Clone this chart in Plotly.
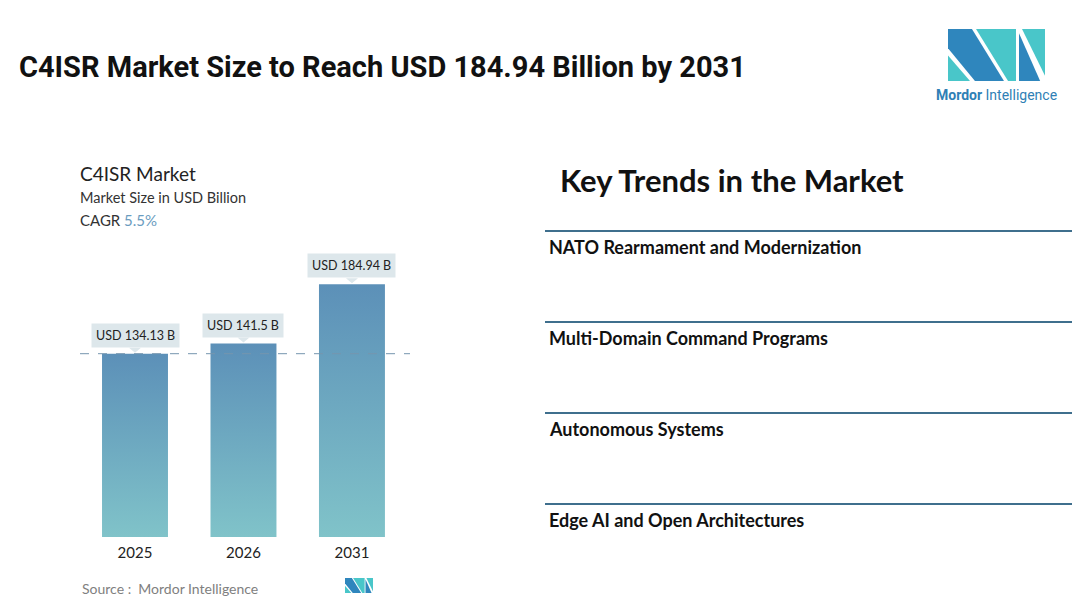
import plotly.graph_objects as go

# chart data
years = ["2025", "2026", "2031"]
market_size = [134.13, 141.5, 184.94]
value_labels = ["USD 134.13 B", "USD 141.5 B", "USD 184.94 B"]
cagr = "5.5%"
trends = [
    "NATO Rearmament and Modernization",
    "Multi-Domain Command Programs",
    "Autonomous Systems",
    "Edge AI and Open Architectures",
]

# page is 1080x605, the html body adds an 8px margin round the figure
PAGE_OFF = 8
W, H = 1080 - 2 * PAGE_OFF, 605 - 2 * PAGE_OFF
BAR_HALF = 0.304
BOX = "#dde7eb"


def px(x):
    return (x - PAGE_OFF) / W


def py(y):
    return 1 - (y - PAGE_OFF) / H


fig = go.Figure()

# bars with vertical gradient
for i, v in enumerate(market_size):
    fig.add_trace(go.Scatter(
        x=[i - BAR_HALF, i - BAR_HALF, i + BAR_HALF, i + BAR_HALF, i - BAR_HALF],
        y=[0, v, v, 0, 0],
        fill="toself",
        mode="lines",
        line=dict(width=0, color="rgba(0,0,0,0)"),
        fillgradient=dict(type="vertical",
                          colorscale=[[0, "#80c3c9"], [1, "#5c90b8"]]),
        hoverinfo="skip",
        showlegend=False,
    ))

shapes = []
annotations = []

# dashed reference line at first value
shapes.append(dict(type="line", xref="x domain", x0=0, x1=1, yref="y",
                   y0=market_size[0], y1=market_size[0],
                   line=dict(color="#7596ae", width=1, dash="dash"), layer="above"))

# value callouts
for i, (v, lab) in enumerate(zip(market_size, value_labels)):
    shapes.append(dict(type="path", xref="x", yref="y", xsizemode="pixel", ysizemode="pixel",
                       xanchor=i, yanchor=v, path="M -6,6 L 6,6 L 0,1 Z",
                       fillcolor=BOX, line=dict(width=0)))
    annotations.append(dict(x=i, y=v, xref="x", yref="y", text=lab, showarrow=False,
                            yanchor="bottom", yshift=6, bgcolor=BOX, borderpad=4,
                            font=dict(family="Lato", size=12.5, color="#222222")))

# trend separators and items
sep_y = [231, 322, 413, 504]
for yy, t in zip(sep_y, trends):
    shapes.append(dict(type="line", xref="paper", yref="paper", x0=px(545), x1=1,
                       y0=py(yy), y1=py(yy), line=dict(color="#3f6f8d", width=2)))
    annotations.append(dict(x=px(547), y=py(yy + 16), xref="paper", yref="paper", text="<b>" + t + "</b>",
                            showarrow=False, xanchor="left", yanchor="middle",
                            font=dict(family="Lato", size=18, color="#111111")))


# logo drawing
def logo(x0, y0, w, h):
    polys = [
        ("#49c6c9", [(0, 0.51), (0, 1), (0.227, 1)]),
        ("#2f86bd", [(0, 0), (0.247, 0), (0.577, 1), (0.278, 1), (0, 0.37)]),
        ("#49c6c9", [(0.289, 0), (0.701, 0), (0.701, 1), (0.619, 1)]),
        ("#49c6c9", [(0.763, 0), (1, 0), (1, 0.90)]),
        ("#2f86bd", [(0.732, 0.08), (0.732, 1), (0.95, 1)]),
    ]
    for col, pts in polys:
        path = "M " + " L ".join(f"{px(x0 + a * w):.5f},{py(y0 + b * h):.5f}" for a, b in pts) + " Z"
        shapes.append(dict(type="path", xref="paper", yref="paper", path=path,
                           fillcolor=col, line=dict(width=0)))


logo(948, 29, 97, 52)
logo(345, 578, 28, 15)

annotations += [
    dict(x=px(17), y=py(67), text="<b>C4ISR Market Size to Reach USD 184.94 Billion by 2031</b>",
         font=dict(family="Roboto", size=29, color="#111111")),
    dict(x=px(934), y=py(95), text="<b>Mordor</b> Intelligence",
         font=dict(family="Roboto", size=14, color="#2f7fb5")),
    dict(x=px(78), y=py(173), text="C4ISR Market",
         font=dict(family="Lato", size=19, color="#222222")),
    dict(x=px(78), y=py(198), text="Market Size in USD Billion",
         font=dict(family="Lato", size=14.5, color="#333333")),
    dict(x=px(78), y=py(220), text="CAGR <span style='color:#6a9cc0'>" + cagr + "</span>",
         font=dict(family="Lato", size=15, color="#333333")),
    dict(x=px(80), y=py(588), text="Source :  Mordor Intelligence",
         font=dict(family="Lato", size=14, color="#808080")),
    dict(x=px(558), y=py(180), text="<b>Key Trends in the Market</b>",
         font=dict(family="Lato", size=31, color="#111111")),
]
for a in annotations[-7:]:
    a.update(xref="paper", yref="paper", showarrow=False, xanchor="left", yanchor="middle")

fig.update_layout(
    width=W, height=H,
    margin=dict(l=0, r=0, t=0, b=0),
    paper_bgcolor="white",
    plot_bgcolor="white",
    shapes=shapes,
    annotations=annotations,
    showlegend=False,
)
fig.update_xaxes(
    domain=[px(80), px(410)],
    range=[-0.507, 2.535],
    tickvals=[0, 1, 2],
    ticktext=years,
    showgrid=False,
    zeroline=False,
    showline=False,
    ticks="",
    ticklabelstandoff=5,
    tickfont=dict(family="Lato", size=15, color="#222222"),
)
fig.update_yaxes(
    domain=[py(537), py(250)],
    range=[0, 210],
    visible=False,
)

fig.write_html("out.html")
